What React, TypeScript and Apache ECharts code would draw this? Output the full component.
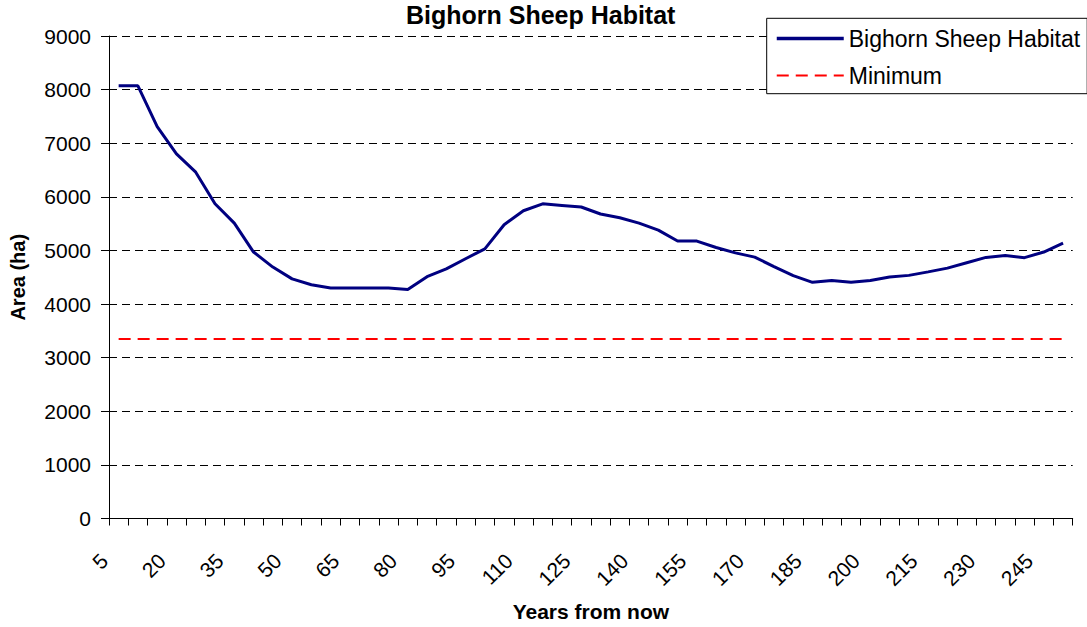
import React, { useEffect, useRef } from "react";
import * as echarts from "echarts";

const years = [
  "5", "10", "15", "20", "25", "30", "35", "40", "45", "50",
  "55", "60", "65", "70", "75", "80", "85", "90", "95", "100",
  "105", "110", "115", "120", "125", "130", "135", "140", "145", "150",
  "155", "160", "165", "170", "175", "180", "185", "190", "195", "200",
  "205", "210", "215", "220", "225", "230", "235", "240", "245", "250",
];

const habitat = [
  8070, 8070, 7310, 6800, 6460, 5870, 5510, 4970, 4690, 4470,
  4360, 4300, 4300, 4300, 4300, 4270, 4510, 4655, 4845, 5030,
  5480, 5740, 5870, 5840, 5810, 5680, 5610, 5510, 5380, 5175,
  5175, 5055, 4955, 4875, 4700, 4530, 4405, 4440, 4405, 4440,
  4505, 4535, 4600, 4670, 4770, 4870, 4905, 4865, 4970, 5135,
];

const minimum = [
  3350, 3350, 3350, 3350, 3350, 3350, 3350, 3350, 3350, 3350,
  3350, 3350, 3350, 3350, 3350, 3350, 3350, 3350, 3350, 3350,
  3350, 3350, 3350, 3350, 3350, 3350, 3350, 3350, 3350, 3350,
  3350, 3350, 3350, 3350, 3350, 3350, 3350, 3350, 3350, 3350,
  3350, 3350, 3350, 3350, 3350, 3350, 3350, 3350, 3350, 3350,
];

const FONT = 'Arial, "Liberation Sans", sans-serif';

export default function App() {
  const ref = useRef<HTMLDivElement>(null);

  useEffect(() => {
    if (!ref.current) return;
    const chart = echarts.init(ref.current, null, { renderer: "svg" });
    chart.setOption({
      animation: false,
      backgroundColor: "#ffffff",
      title: {
        text: "Bighorn Sheep Habitat",
        left: 540.7,
        top: 2.5,
        padding: 0,
        textAlign: "center",
        textStyle: { fontSize: 25, fontWeight: "bold", color: "#000", fontFamily: FONT },
      },
      legend: {
        orient: "vertical",
        left: 766.7,
        top: 18.3,
        padding: [8.7, 7, 6.7, 8.3],
        backgroundColor: "#ffffff",
        borderColor: "#000",
        borderWidth: 1,
        itemWidth: 67,
        itemHeight: 14,
        itemGap: 14,
        itemStyle: { opacity: 0 },
        textStyle: { fontSize: 23, color: "#000", fontFamily: FONT },
        data: [
          { name: "Bighorn Sheep Habitat", lineStyle: { color: "#000080", width: 3.5, type: "solid" } },
          { name: "Minimum", lineStyle: { color: "#ff0000", width: 2, type: [12, 7] } },
        ],
      },
      grid: { left: 108.7, right: 14.3, top: 36, bottom: 108, containLabel: false },
      xAxis: {
        type: "category",
        data: years,
        boundaryGap: true,
        name: "Years from now",
        nameLocation: "middle",
        nameGap: 82.5,
        nameTextStyle: { fontSize: 21, fontWeight: "bold", color: "#000", fontFamily: FONT },
        axisLine: { show: true, lineStyle: { color: "#000", width: 1 } },
        axisTick: { show: true, interval: 0, length: 7, lineStyle: { color: "#000" } },
        axisLabel: {
          interval: 2,
          rotate: 45,
          margin: 39,
          verticalAlign: "bottom",
          padding: [0, 10, 0, 0],
          fontSize: 21,
          color: "#000",
          fontFamily: FONT,
        },
        splitLine: { show: false },
      },
      yAxis: {
        type: "value",
        min: 0,
        max: 9000,
        interval: 1000,
        name: "Area (ha)",
        nameLocation: "middle",
        nameGap: 81,
        nameTextStyle: { fontSize: 20, fontWeight: "bold", color: "#000", fontFamily: FONT },
        axisLine: { show: true, lineStyle: { color: "#000", width: 1 } },
        axisTick: { show: true, length: 8, lineStyle: { color: "#000" } },
        axisLabel: {
          margin: 18,
          fontSize: 21,
          color: "#000",
          fontFamily: FONT,
          formatter: (v: number) => String(v),
        },
        splitLine: { show: true, lineStyle: { color: "#000", width: 1, type: [8, 5] } },
      },
      series: [
        {
          name: "Bighorn Sheep Habitat",
          type: "line",
          data: habitat,
          symbol: "none",
          z: 3,
          lineStyle: { color: "#000080", width: 3 },
          itemStyle: { color: "#000080" },
        },
        {
          name: "Minimum",
          type: "line",
          data: minimum,
          symbol: "none",
          z: 2,
          lineStyle: { color: "#ff0000", width: 2, type: [12, 7] },
          itemStyle: { color: "#ff0000" },
        },
      ],
    });
    return () => chart.dispose();
  }, []);

  return (
    <div
      ref={ref}
      style={{ position: "absolute", left: 0, top: 0, width: 1087, height: 627 }}
    />
  );
}
